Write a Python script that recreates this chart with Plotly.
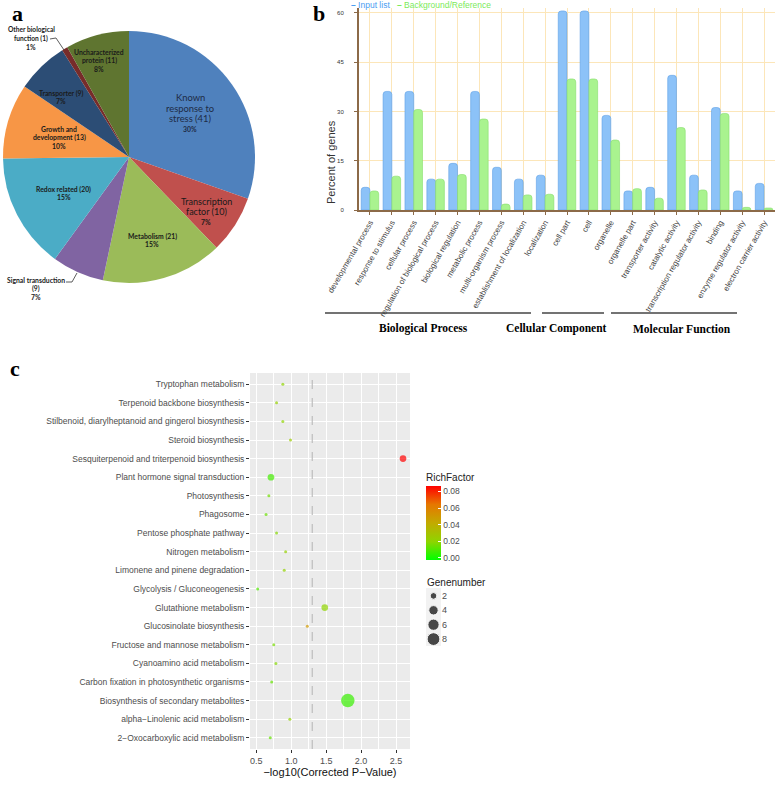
import numpy as np
import plotly.graph_objects as go

W, H = 778, 786


def px(x):
    return x / W


def py(y):
    return 1 - y / H


# ---- panel a: pie ----
pie_names = ["Known response to stress", "Transcription factor", "Metabolism",
             "Signal transduction", "Redox related", "Growth and development",
             "Transporter", "Other biological function", "Uncharacterized protein"]
pie_counts = [41, 10, 21, 9, 20, 13, 9, 1, 11]
pie_pct = ["30%", "7%", "15%", "7%", "15%", "10%", "7%", "1%", "8%"]
pie_colors = ["#4F81BD", "#C0504D", "#9BBB59", "#8064A2", "#4BACC6",
              "#F79646", "#2C4D75", "#772C2A", "#5F7530"]

# ---- panel b: GO bars ----
go_terms = ["developmental process", "response to stimulus", "cellular process",
            "regulation of biological process", "biological regulation",
            "metabolic process", "multi-organism process",
            "establishment of localization", "localization", "cell part", "cell",
            "organelle", "organelle part", "transporter activity",
            "catalytic activity", "transcription regulator activity", "binding",
            "enzyme regulator activity", "electron carrier activity"]
input_pct = [6.9, 36.1, 36.1, 9.4, 14.2, 36.1, 13.0, 9.4, 10.6, 60.6, 60.6,
             28.8, 5.8, 6.9, 41.0, 10.6, 31.2, 5.8, 8.1]
background_pct = [5.8, 10.3, 30.6, 9.4, 10.8, 27.7, 1.8, 4.6, 4.8, 39.9, 39.9,
                  21.3, 6.5, 3.6, 25.1, 6.1, 29.4, 0.8, 0.6]
go_groups = ["Biological Process", "Cellular Component", "Molecular Function"]

# ---- panel c: KEGG enrichment ----
pathways = ["Tryptophan metabolism", "Terpenoid backbone biosynthesis",
            "Stilbenoid, diarylheptanoid and gingerol biosynthesis",
            "Steroid biosynthesis", "Sesquiterpenoid and triterpenoid biosynthesis",
            "Plant hormone signal transduction", "Photosynthesis", "Phagosome",
            "Pentose phosphate pathway", "Nitrogen metabolism",
            "Limonene and pinene degradation", "Glycolysis / Gluconeogenesis",
            "Glutathione metabolism", "Glucosinolate biosynthesis",
            "Fructose and mannose metabolism", "Cyanoamino acid metabolism",
            "Carbon fixation in photosynthetic organisms",
            "Biosynthesis of secondary metabolites",
            "alpha\u2212Linolenic acid metabolism",
            "2\u2212Oxocarboxylic acid metabolism"]
neglog_p = [0.88, 0.79, 0.88, 0.99, 2.60, 0.71, 0.68, 0.64, 0.79, 0.92,
            0.90, 0.52, 1.48, 1.23, 0.75, 0.78, 0.72, 1.81, 0.98, 0.70]
rich_factor = [0.020, 0.022, 0.020, 0.025, 0.087, 0.008, 0.015, 0.014, 0.018,
               0.022, 0.021, 0.010, 0.020, 0.050, 0.016, 0.018, 0.013, 0.006,
               0.022, 0.013]
gene_number = [1, 1, 1, 1, 2, 2, 1, 1, 1, 1, 1, 1, 2, 1, 1, 1, 1, 9, 1, 1]
size_legend = [2, 4, 6, 8]
rich_ticks = [0.00, 0.02, 0.04, 0.06, 0.08]


def dot_size(n):
    return 3 + 3.7 * np.sqrt(np.asarray(n) - 1)


fig = go.Figure()

fig.add_trace(go.Pie(
    labels=pie_names, values=pie_counts, sort=False, direction="clockwise",
    marker=dict(colors=pie_colors, line=dict(width=0)),
    textinfo="none", hoverinfo="label+value+percent", showlegend=False,
    automargin=False,
    domain=dict(x=[px(3), px(255)], y=[py(283), py(31)]),
))

fig.add_trace(go.Bar(
    x=go_terms, y=input_pct, name="Input list",
    marker=dict(color="#8CC2F8", line=dict(color="#5E9FE6", width=0.6),
                cornerradius=3),
    xaxis="x", yaxis="y", showlegend=False,
))
fig.add_trace(go.Bar(
    x=go_terms, y=background_pct, name="Background/Reference",
    marker=dict(color="#A9F38F", line=dict(color="#86DD6B", width=0.6),
                cornerradius=3),
    xaxis="x", yaxis="y", showlegend=False,
))

rich_scale = [[0, "#00FF00"], [0.25, "#8FD400"], [0.5, "#C2AA00"],
              [0.75, "#E67700"], [1, "#FF0000"]]
fig.add_trace(go.Scatter(
    x=neglog_p, y=pathways, mode="markers", xaxis="x2", yaxis="y2",
    showlegend=False,
    marker=dict(size=dot_size(gene_number), sizemode="diameter",
                color=rich_factor, colorscale=rich_scale, cmin=-0.0025, cmax=0.0865,
                line=dict(width=0),
                colorbar=dict(x=px(426), xanchor="left", y=py(560), yanchor="bottom",
                              len=90, lenmode="pixels", thickness=15,
                              thicknessmode="pixels", outlinewidth=0, xpad=0, ypad=0,
                              tickvals=rich_ticks, tickformat=".2f",
                              ticks="inside", ticklen=3, tickcolor="white",
                              tickfont=dict(size=8.5, color="#4D4D4D",
                                            family="Liberation Sans"),
                              title=dict(text="RichFactor", side="top",
                                         font=dict(size=10, color="#222",
                                                   family="Liberation Sans"))))
))

fig.add_trace(go.Scatter(
    x=[0] * len(size_legend), y=size_legend, mode="markers",
    xaxis="x3", yaxis="y3", showlegend=False, hoverinfo="skip",
    marker=dict(size=dot_size(size_legend), sizemode="diameter", color="black"),
))

ann = []
shapes = []


def label(text, x, y, size, color="black", family="Liberation Sans", **kw):
    d = dict(text=text, x=px(x), y=py(y), xref="paper", yref="paper",
             showarrow=False, xanchor="center", yanchor="middle",
             font=dict(size=size, family=family, color=color))
    d.update(kw)
    ann.append(d)


# panel letters
for letter, lx, ly in [("a", 17, 13), ("b", 319, 13), ("c", 15, 369)]:
    label("<b>%s</b>" % letter, lx, ly, 22, family="Liberation Serif")

# pie labels: lines, centre x, first-line y, line step, font size, bold
pie_label_lines = [
    ["Known", "response to", "stress (41)"],
    ["Transcription", "factor (10)"],
    ["Metabolism (21)"],
    ["Signal transduction", "(9)"],
    ["Redox related (20)"],
    ["Growth and", "development (13)"],
    ["Transporter (9)"],
    ["Other biological", "function (1)"],
    ["Uncharacterized", "protein (11)"],
]
pie_label_pos = [(190, 98, 10.3, 9.4, False), (206, 201, 10.6, 9.0, False),
                 (152, 236, 8.3, 6.8, True), (36, 280, 8.5, 6.8, True),
                 (64, 189, 8.3, 6.8, True), (59, 129, 8.3, 6.8, True),
                 (61, 93, 8.3, 6.8, True), (31, 29, 9.0, 6.6, True),
                 (99, 52, 8.7, 6.8, True)]
for lines, pct, (cx, cy, step, fs, bold) in zip(pie_label_lines, pie_pct, pie_label_pos):
    col = "#1E2B45" if not bold and cx < 200 else "#1A1A1A"
    for i, line in enumerate(lines + [pct]):
        is_pct = i == len(lines)
        txt = "<b>%s</b>" % line if (bold or is_pct) else line
        label(txt, cx, cy + i * step, 6.8 if is_pct else fs, color=col, family="Lato")

# leader lines for the two outside labels
for pts in [[(50, 39), (56, 38), (64, 50)], [(66, 282), (72, 282), (77, 273)]]:
    path = "M " + " L ".join("%f %f" % (px(a), py(b)) for a, b in pts)
    shapes.append(dict(type="path", path=path, xref="paper", yref="paper",
                       line=dict(color="#333", width=0.8)))

# bar legend
label("<b>\u2013</b> Input list", 349, 5, 8.5, color="#4A9DF2", xanchor="left")
label("<b>\u2013</b> Background/Reference", 395, 5, 8.5, color="#7BEA5A",
      xanchor="left")
label("Percent of genes", 331, 162, 11, color="#333", textangle=-90)

# GO group lines and labels
for name, (x0, x1), lx in zip(go_groups, [(325, 531), (542, 604), (611, 737)],
                              [424, 556, 682]):
    shapes.append(dict(type="line", xref="paper", yref="paper", x0=px(x0), x1=px(x1),
                       y0=py(313), y1=py(313), line=dict(color="#444", width=1.5)))
    label("<b>%s</b>" % name, lx, 329, 11.5, family="Liberation Serif")

# panel c background, threshold line, size legend
shapes.append(dict(type="rect", xref="x2 domain", yref="y2 domain", x0=0, x1=1,
                   y0=0, y1=1, fillcolor="#EBEBEB", line=dict(width=0), layer="below"))
shapes.append(dict(type="line", xref="x2", yref="y2 domain", x0=1.301, x1=1.301,
                   y0=0, y1=1, line=dict(color="#BEBEBE", width=1.2, dash="dash")))
shapes.append(dict(type="rect", xref="paper", yref="paper", x0=px(426), x1=px(441),
                   y0=py(646), y1=py(588), fillcolor="#F2F2F2",
                   line=dict(width=0), layer="below"))
label("Genenumber", 425, 582, 10, color="#222", xanchor="left")

fig.update_layout(
    width=W, height=H, margin=dict(l=0, r=0, t=0, b=0, autoexpand=False),
    paper_bgcolor="white", plot_bgcolor="white",
    bargap=0.2, bargroupgap=0, barmode="group",
    annotations=ann, shapes=shapes,
    font=dict(family="Liberation Sans"),
    xaxis=dict(domain=[px(359), px(775)], anchor="y", tickangle=-60,
               tickfont=dict(size=8, color="#444"), showgrid=True,
               gridcolor="#FCE6B9", gridwidth=1, showline=True,
               linecolor="#8C6A48", linewidth=1.5, ticks="outside", ticklen=3,
               tickcolor="#8C6A48", range=[-0.5, 18.5], automargin=False),
    yaxis=dict(domain=[py(210), py(8)], anchor="x", range=[0, 61.5],
               tickvals=[0, 15, 30, 45, 60], tickfont=dict(size=6, color="#333"),
               showgrid=True, gridcolor="#FCE6B9", showline=True,
               linecolor="#8C6A48", linewidth=2, ticks="outside", ticklen=3,
               tickcolor="#8C6A48", ticklabelstandoff=9, zeroline=False,
               automargin=False),
    xaxis2=dict(domain=[px(250), px(410)], anchor="y2", range=[0.41, 2.70],
                tickvals=[0.5, 1.0, 1.5, 2.0, 2.5], tickformat=".1f",
                tickfont=dict(size=9, color="#4D4D4D"), showgrid=True,
                gridcolor="white", gridwidth=1.1,
                minor=dict(dtick=0.25, tick0=0.25, showgrid=True, gridcolor="white",
                           gridwidth=0.5),
                ticks="outside", ticklen=3, tickcolor="#333", zeroline=False,
                automargin=False,
                title=dict(text="\u2212log10(Corrected P\u2212Value)", standoff=2,
                           font=dict(size=11, color="#111"))),
    yaxis2=dict(domain=[py(749), py(373)], anchor="x2", type="category",
                categoryorder="array", categoryarray=pathways, range=[19.6, -0.6],
                tickfont=dict(size=8.5, color="#4D4D4D"), showgrid=True,
                gridcolor="white", gridwidth=1.1, ticks="outside", ticklen=3,
                tickcolor="#333", automargin=False),
    xaxis3=dict(domain=[px(426), px(441)], anchor="y3", range=[-1, 1],
                visible=False, automargin=False),
    yaxis3=dict(domain=[py(647), py(588)], anchor="x3", range=[9.1, 0.9],
                side="right", tickvals=size_legend, ticks="", showgrid=False,
                showline=False, zeroline=False, automargin=False,
                tickfont=dict(size=9, color="#4D4D4D")),
)

# drop the browser's default 8px body margin so the figure sits at the page corner
fig.write_html("out.html", config={"displayModeBar": False},
               post_script="document.body.style.margin='0';")
